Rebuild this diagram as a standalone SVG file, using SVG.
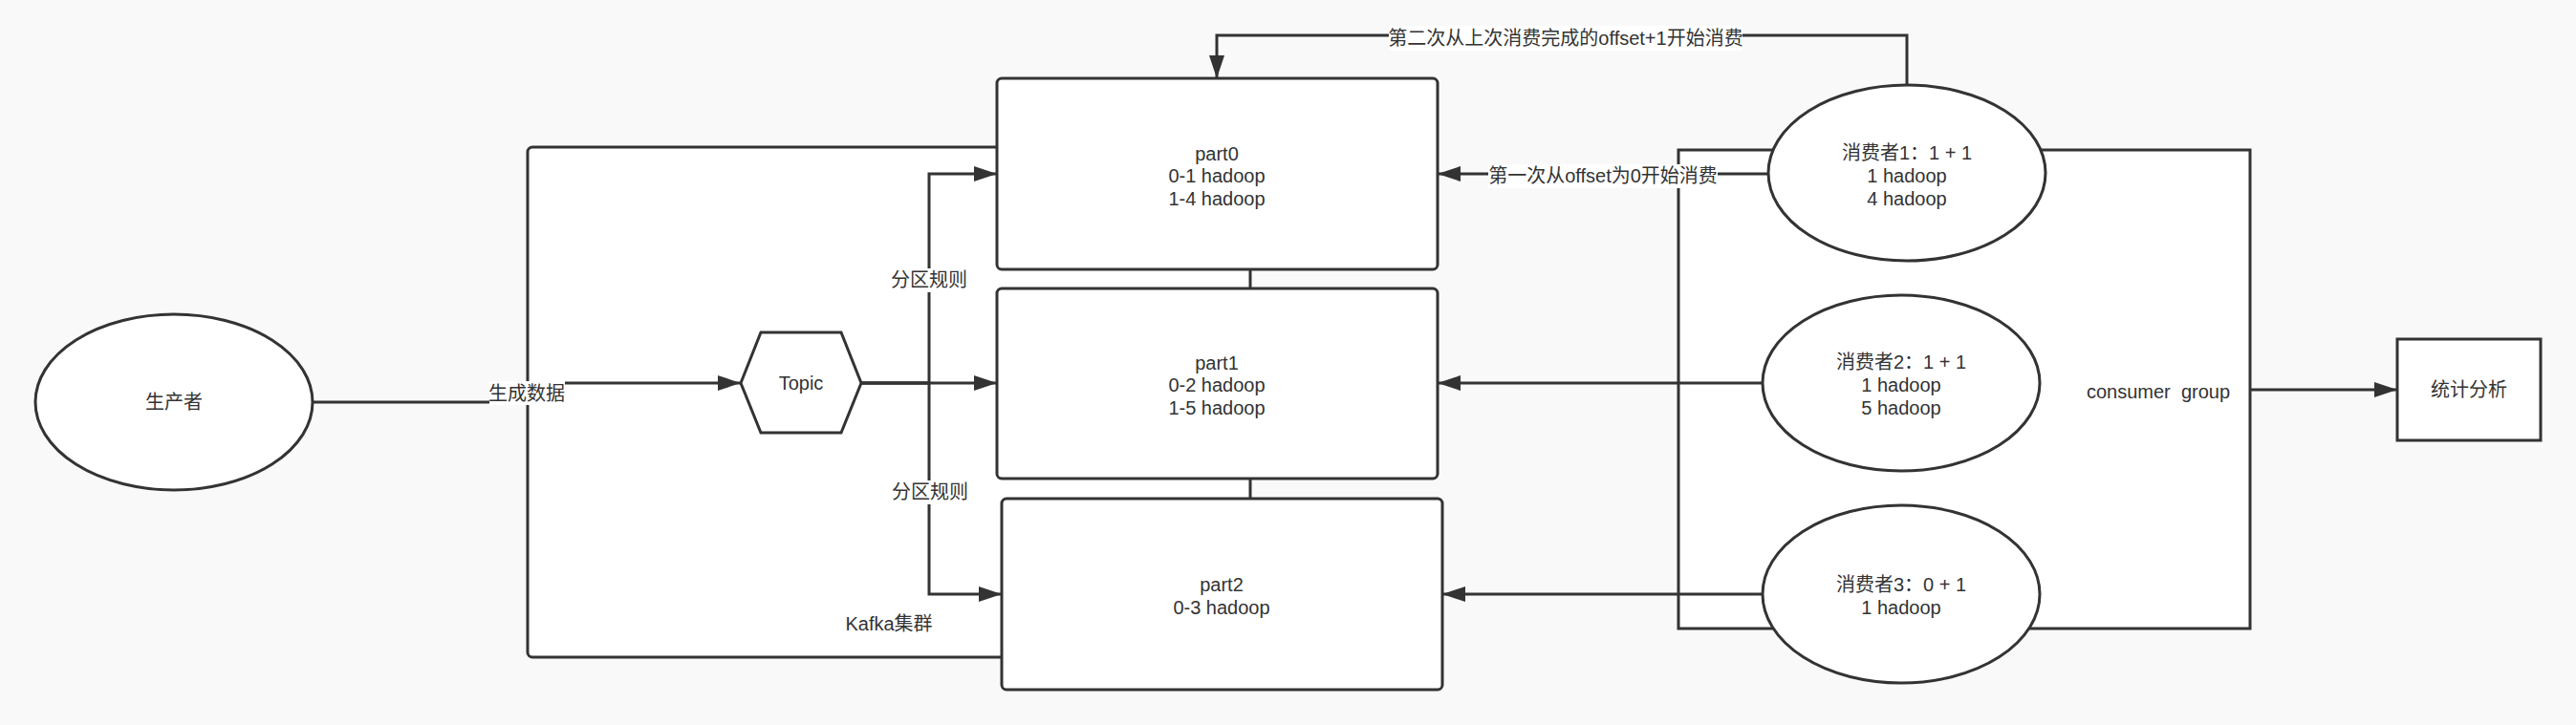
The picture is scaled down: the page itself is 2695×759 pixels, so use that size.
<svg xmlns="http://www.w3.org/2000/svg" width="2695" height="759" viewBox="0 0 2695 759">
<defs>
<marker id="arr" markerUnits="userSpaceOnUse" markerWidth="24" markerHeight="16" refX="24" refY="8" orient="auto">
<path d="M0,0 L24,8 L0,16 Z" fill="#333333"/>
</marker>
<style>
.shape{fill:#ffffff;stroke:#333333;stroke-width:3}
.edge{fill:none;stroke:#333333;stroke-width:3}
.t{font-family:"Liberation Sans","Noto Sans CJK SC",sans-serif;font-size:20px;fill:#333333;text-anchor:middle;white-space:pre}
.lbg{fill:#ffffff;stroke:none}
</style>
</defs>
<rect x="0" y="0" width="2695" height="759" fill="#f9f9f9"/>

<g id="kafka-cluster">
<rect class="shape" x="552" y="154" width="756" height="534" rx="5"/>
<text class="t" x="930" y="660">Kafka集群</text>
</g>

<g id="consumer-group">
<rect class="shape" x="1756" y="157" width="598" height="501"/>
<text class="t" x="2258" y="417">consumer  group</text>
</g>

<g id="producer">
<ellipse class="shape" cx="182" cy="421" rx="145" ry="92"/>
<text class="t" x="182" y="428">生产者</text>
</g>

<g id="topic">
<polygon class="shape" points="775,401 796,348 880,348 901,401 880,453 796,453"/>
<text class="t" x="838" y="408">Topic</text>
</g>

<g id="part0">
<rect class="shape" x="1043" y="82" width="461" height="200" rx="5"/>
<text class="t" x="1273" y="168">part0</text>
<text class="t" x="1273" y="191">0-1 hadoop</text>
<text class="t" x="1273" y="215">1-4 hadoop</text>
</g>

<g id="part1">
<rect class="shape" x="1043" y="302" width="461" height="199" rx="5"/>
<text class="t" x="1273" y="387">part1</text>
<text class="t" x="1273" y="410">0-2 hadoop</text>
<text class="t" x="1273" y="434">1-5 hadoop</text>
</g>

<g id="part2">
<rect class="shape" x="1048" y="522" width="461" height="200" rx="5"/>
<text class="t" x="1278" y="619">part2</text>
<text class="t" x="1278" y="643">0-3 hadoop</text>
</g>

<g id="consumer1">
<ellipse class="shape" cx="1995" cy="181" rx="145" ry="92"/>
<text class="t" x="1995" y="167">消费者1：1 + 1</text>
<text class="t" x="1995" y="191">1 hadoop</text>
<text class="t" x="1995" y="215">4 hadoop</text>
</g>

<g id="consumer2">
<ellipse class="shape" cx="1989" cy="401" rx="145" ry="92"/>
<text class="t" x="1989" y="386">消费者2：1 + 1</text>
<text class="t" x="1989" y="410">1 hadoop</text>
<text class="t" x="1989" y="434">5 hadoop</text>
</g>

<g id="consumer3">
<ellipse class="shape" cx="1989" cy="622" rx="145" ry="93"/>
<text class="t" x="1989" y="619">消费者3：0 + 1</text>
<text class="t" x="1989" y="643">1 hadoop</text>
</g>

<g id="stats">
<rect class="shape" x="2508" y="355" width="150" height="106"/>
<text class="t" x="2583" y="415">统计分析</text>
</g>

<g id="connectors">
<path class="edge" d="M326,421 H551 V401 H775" marker-end="url(#arr)"/>
<rect class="lbg" x="512" y="399" width="79" height="25"/>
<text class="t" x="551" y="419">生成数据</text>

<path class="edge" d="M901,401 H1043" marker-end="url(#arr)"/>
<path class="edge" d="M901,401 H972 V182 H1043" marker-end="url(#arr)"/>
<rect class="lbg" x="932" y="281" width="80" height="25"/>
<text class="t" x="972" y="300">分区规则</text>
<path class="edge" d="M901,401 H972 V622 H1048" marker-end="url(#arr)"/>
<rect class="lbg" x="933" y="503" width="80" height="25"/>
<text class="t" x="973" y="522">分区规则</text>

<path class="edge" d="M1850,182 H1504" marker-end="url(#arr)"/>
<rect class="lbg" x="1557" y="172" width="240" height="25"/>
<text class="t" x="1677" y="191">第一次从offset为0开始消费</text>

<path class="edge" d="M1995,89 V37 H1273 V82" marker-end="url(#arr)"/>
<rect class="lbg" x="1453" y="27" width="370" height="26"/>
<text class="t" x="1638" y="47">第二次从上次消费完成的offset+1开始消费</text>

<path class="edge" d="M1844,401 H1504" marker-end="url(#arr)"/>
<path class="edge" d="M1844,622 H1509" marker-end="url(#arr)"/>
<path class="edge" d="M2354,408 H2508" marker-end="url(#arr)"/>
</g>
</svg>
